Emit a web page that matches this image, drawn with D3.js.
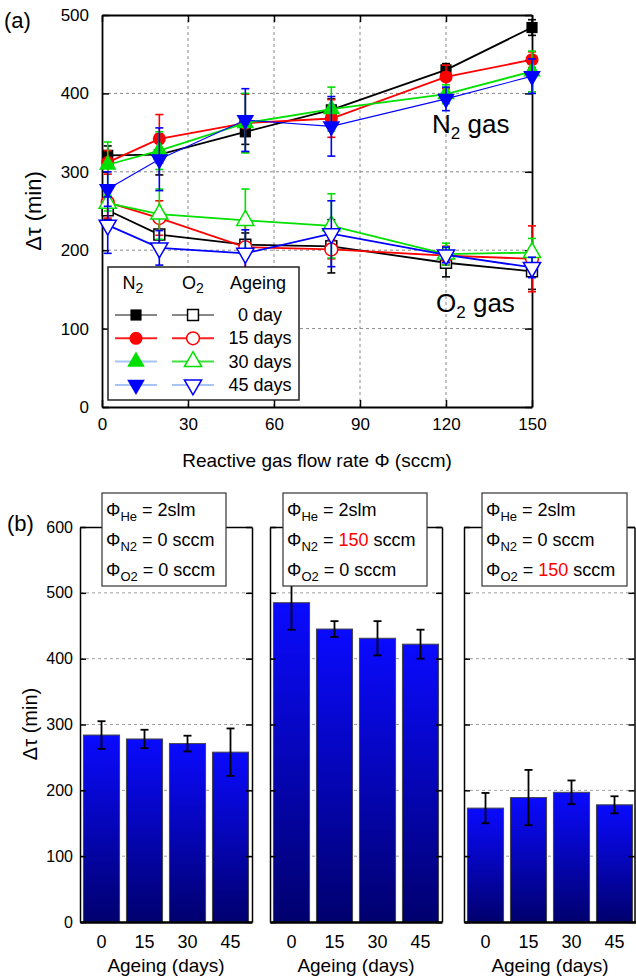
<!DOCTYPE html>
<html><head><meta charset="utf-8">
<script src="https://cdn.jsdelivr.net/npm/d3@7"></script>
<style>
html,body{margin:0;padding:0;background:#fff;}
svg{display:block;font-family:"Liberation Sans",Arial,sans-serif;}
</style></head>
<body><svg id="c" width="636" height="980"></svg>
<script>
// ---------- data: panel (a) ----------
const flowRates = [2, 20, 50, 80, 120, 150];
const xTicksA = [0, 30, 60, 90, 120, 150];
const yTicksA = [0, 100, 200, 300, 400, 500];
const ageingLabels = ["0 day", "15 days", "30 days", "45 days"];
const seriesColors = ["#000000", "#ff0000", "#00e000", "#0000ff"];

const n2Day0  = [321, 322, 351, 379, 430, 484];
const n2Day0Err  = [12, 26, 16, 14, 8, 10];
const n2Day15 = [312, 342, 362, 368, 421, 443];
const n2Day15Err = [15, 31, 37, 24, 15, 10];
const n2Day30 = [309, 327, 362, 380, 399, 428];
const n2Day30Err = [29, 24, 38, 28, 12, 26];
const n2Day45 = [278, 316, 366, 358, 393, 422];
const n2Day45Err = [22, 40, 40, 38, 15, 22];

const o2Day0  = [251, 220, 207, 205, 184, 173];
const o2Day0Err  = [12, 20, 15, 34, 18, 23];
const o2Day15 = [261, 241, 204, 201, 193, 189];
const o2Day15Err = [20, 22, 33, 12, 12, 42];
const o2Day30 = [260, 246, 238, 231, 195, 197];
const o2Day30Err = [10, 32, 40, 41, 14, 18];
const o2Day45 = [232, 203, 196, 221, 194, 178];
const o2Day45Err = [36, 22, 30, 42, 10, 13];

// ---------- data: panel (b) ----------
const ageingDays = ["0", "15", "30", "45"];
const yTicksB = [0, 100, 200, 300, 400, 500, 600];
const noGasValues = [284, 278, 271, 258];
const noGasErr = [21, 14, 12, 36];
const n2GasValues = [485, 445, 431, 422];
const n2GasErr = [41, 12, 26, 22];
const o2GasValues = [173, 189, 197, 178];
const o2GasErr = [23, 42, 18, 13];

const svg = d3.select("#c");
const FONT = '"Liberation Sans",Arial,sans-serif';

// ================= PANEL (a) =================
const xA = d3.scaleLinear().domain([0, 150]).range([102, 532]);
const yA = d3.scaleLinear().domain([0, 500]).range([407, 15]);
const gA = svg.append("g");

gA.selectAll(".gx").data(xTicksA.slice(1, -1)).join("line")
  .attr("x1", d => xA(d)).attr("x2", d => xA(d)).attr("y1", yA(0)).attr("y2", yA(500))
  .attr("stroke", "#888").attr("stroke-width", 1).attr("stroke-dasharray", "3,3");
gA.selectAll(".gy").data(yTicksA.slice(1, -1)).join("line")
  .attr("x1", xA(0)).attr("x2", xA(150)).attr("y1", d => yA(d)).attr("y2", d => yA(d))
  .attr("stroke", "#888").attr("stroke-width", 1).attr("stroke-dasharray", "3,3");

const axB = gA.append("g").attr("transform", `translate(0,${yA(0)})`)
  .call(d3.axisBottom(xA).tickValues(xTicksA).tickSizeInner(-7).tickSizeOuter(0).tickPadding(13));
const axT = gA.append("g").attr("transform", `translate(0,${yA(500)})`)
  .call(d3.axisTop(xA).tickValues(xTicksA).tickSizeInner(-7).tickSizeOuter(0).tickFormat(""));
const axL = gA.append("g").attr("transform", `translate(${xA(0)},0)`)
  .call(d3.axisLeft(yA).tickValues(yTicksA).tickSizeInner(-7).tickSizeOuter(0).tickPadding(13));
const axR = gA.append("g").attr("transform", `translate(${xA(150)},0)`)
  .call(d3.axisRight(yA).tickValues(yTicksA).tickSizeInner(-7).tickSizeOuter(0).tickFormat(""));
[axB, axT, axL, axR].forEach(a => {
  a.select(".domain").attr("stroke", "#000").attr("stroke-width", 1.8);
  a.selectAll(".tick line").attr("stroke", "#000").attr("stroke-width", 1.5);
  a.selectAll("text").attr("font-size", 17).attr("font-family", FONT).attr("fill", "#000");
});
axB.selectAll("text").attr("dy", "0.35em").attr("y", 17);
axL.selectAll("text").attr("x", -13);

const n2Series = [[n2Day0, n2Day0Err], [n2Day15, n2Day15Err], [n2Day30, n2Day30Err], [n2Day45, n2Day45Err]];
const o2Series = [[o2Day0, o2Day0Err], [o2Day15, o2Day15Err], [o2Day30, o2Day30Err], [o2Day45, o2Day45Err]];
const symTypes = [d3.symbolSquare, d3.symbolCircle, d3.symbolTriangle, d3.symbolTriangle];
const symSizes = [125, 135, 135, 135];
const symRot = [0, 0, 0, 180];
const lineW = [1.8, 1.8, 1.8, 1.1];

const lineGen = d3.line().x((d, i) => xA(flowRates[i])).y(d => yA(d));
const plotA = gA.append("g");

function drawSeries(series, filled, lw) {
  series.forEach((s, k) => {
    const vals = s[0], errs = s[1], col = seriesColors[k];
    const g = plotA.append("g");
    g.append("path").datum(vals).attr("d", lineGen).attr("fill", "none")
      .attr("stroke", col).attr("stroke-width", lw[k]);
    const eb = g.selectAll(".eb").data(vals).join("g");
    eb.append("line").attr("x1", (d, i) => xA(flowRates[i])).attr("x2", (d, i) => xA(flowRates[i]))
      .attr("y1", (d, i) => yA(d - errs[i])).attr("y2", (d, i) => yA(d + errs[i]))
      .attr("stroke", col).attr("stroke-width", 1.6);
    eb.append("line").attr("x1", (d, i) => xA(flowRates[i]) - 4).attr("x2", (d, i) => xA(flowRates[i]) + 4)
      .attr("y1", (d, i) => yA(d + errs[i])).attr("y2", (d, i) => yA(d + errs[i]))
      .attr("stroke", col).attr("stroke-width", 1.6);
    eb.append("line").attr("x1", (d, i) => xA(flowRates[i]) - 4).attr("x2", (d, i) => xA(flowRates[i]) + 4)
      .attr("y1", (d, i) => yA(d - errs[i])).attr("y2", (d, i) => yA(d - errs[i]))
      .attr("stroke", col).attr("stroke-width", 1.6);
    g.selectAll(".m").data(vals).join("path")
      .attr("d", d3.symbol().type(symTypes[k]).size(filled ? symSizes[k] : symSizes[k] * 0.95))
      .attr("transform", (d, i) => `translate(${xA(flowRates[i])},${yA(d)}) rotate(${symRot[k]})`)
      .attr("fill", filled ? col : "#fff").attr("stroke", col).attr("stroke-width", filled ? 0 : 1.5);
  });
}
drawSeries(o2Series, false, [1.8, 1.8, 1.8, 1.8]);
drawSeries(n2Series, true, lineW);

svg.append("text").attr("x", 4).attr("y", 28).attr("font-size", 22).text("(a)");
const n2t = svg.append("text").attr("x", 432).attr("y", 133).attr("font-size", 26);
n2t.append("tspan").text("N");
n2t.append("tspan").attr("font-size", 17).attr("dy", 6).text("2");
n2t.append("tspan").attr("dy", -6).text(" gas");
const o2t = svg.append("text").attr("x", 436).attr("y", 312).attr("font-size", 26);
o2t.append("tspan").text("O");
o2t.append("tspan").attr("font-size", 17).attr("dy", 6).text("2");
o2t.append("tspan").attr("dy", -6).text(" gas");
svg.append("text").attr("transform", "translate(41,211) rotate(-90)").attr("text-anchor", "middle")
  .attr("font-size", 22).text("Δτ (min)");
svg.append("text").attr("x", 317).attr("y", 467).attr("text-anchor", "middle")
  .attr("font-size", 19).text("Reactive gas flow rate Φ (sccm)");

// legend
const lg = svg.append("g");
lg.append("rect").attr("x", 108).attr("y", 267).attr("width", 191).attr("height", 133)
  .attr("fill", "#fff").attr("stroke", "#222").attr("stroke-width", 1.5);
const h1 = lg.append("text").attr("x", 133).attr("y", 289).attr("text-anchor", "middle").attr("font-size", 18);
h1.append("tspan").text("N"); h1.append("tspan").attr("font-size", 14).attr("dy", 4).text("2");
const h2 = lg.append("text").attr("x", 193).attr("y", 289).attr("text-anchor", "middle").attr("font-size", 18);
h2.append("tspan").text("O"); h2.append("tspan").attr("font-size", 14).attr("dy", 4).text("2");
lg.append("text").attr("x", 258).attr("y", 289).attr("text-anchor", "middle").attr("font-size", 18).text("Ageing");
const legN2Line = ["#888", "#ff2020", "#a8c4f4", "#a8c4f4"];
const legO2Line = ["#888", "#ff2020", "#40e040", "#a8c4f4"];
ageingLabels.forEach((lab, k) => {
  const yy = 315 + k * 23.3;
  lg.append("line").attr("x1", 115).attr("x2", 157).attr("y1", yy).attr("y2", yy).attr("stroke", legN2Line[k]).attr("stroke-width", 2);
  lg.append("line").attr("x1", 172).attr("x2", 214).attr("y1", yy).attr("y2", yy).attr("stroke", legO2Line[k]).attr("stroke-width", 2);
  lg.append("path").attr("d", d3.symbol().type(symTypes[k]).size(symSizes[k]))
    .attr("transform", `translate(136,${yy}) rotate(${symRot[k]})`).attr("fill", seriesColors[k]);
  lg.append("path").attr("d", d3.symbol().type(symTypes[k]).size(symSizes[k] * 0.95))
    .attr("transform", `translate(193,${yy}) rotate(${symRot[k]})`).attr("fill", "#fff")
    .attr("stroke", seriesColors[k]).attr("stroke-width", 1.5);
  lg.append("text").attr("x", 260).attr("y", yy + 6).attr("text-anchor", "middle").attr("font-size", 18)
    .text(lab);
});

// ================= PANEL (b) =================
const yB = d3.scaleLinear().domain([0, 600]).range([922, 527]);
const defs = svg.append("defs");
const grad = defs.append("linearGradient").attr("id", "barGrad").attr("x1", 0).attr("y1", 0).attr("x2", 0).attr("y2", 1);
grad.append("stop").attr("offset", "0%").attr("stop-color", "#0a0aff");
grad.append("stop").attr("offset", "100%").attr("stop-color", "#00006e");

const panels = [
  { x0: 80, x1: 252, bx: 102, bw: 124, vals: noGasValues, errs: noGasErr, n2: "0", o2: "0" },
  { x0: 270, x1: 442, bx: 283, bw: 144, vals: n2GasValues, errs: n2GasErr, n2: "150", o2: "0" },
  { x0: 464, x1: 634.5, bx: 482, bw: 145, vals: o2GasValues, errs: o2GasErr, n2: "0", o2: "150" }
];
panels.forEach((p, pi) => {
  const g = svg.append("g");
  const xB = d3.scaleBand().domain(ageingDays).range([p.x0, p.x0 + 172]).paddingInner(0.16).paddingOuter(0.08);
  g.selectAll(".gy").data(yTicksB.slice(1, -1)).join("line")
    .attr("x1", p.x0).attr("x2", p.x1).attr("y1", d => yB(d)).attr("y2", d => yB(d))
    .attr("stroke", "#888").attr("stroke-width", 0.8).attr("stroke-dasharray", "3,3");
  g.selectAll(".bar").data(p.vals).join("rect")
    .attr("x", (d, i) => xB(ageingDays[i])).attr("width", xB.bandwidth())
    .attr("y", d => yB(d)).attr("height", d => yB(0) - yB(d))
    .attr("fill", "url(#barGrad)").attr("stroke", "#444").attr("stroke-width", 1);
  const cx = i => xB(ageingDays[i]) + xB.bandwidth() / 2;
  g.selectAll(".ev").data(p.vals).join("line")
    .attr("x1", (d, i) => cx(i)).attr("x2", (d, i) => cx(i))
    .attr("y1", (d, i) => yB(d - p.errs[i])).attr("y2", (d, i) => yB(d + p.errs[i]))
    .attr("stroke", "#000").attr("stroke-width", 1.8);
  g.selectAll(".et").data(p.vals).join("line")
    .attr("x1", (d, i) => cx(i) - 4).attr("x2", (d, i) => cx(i) + 4)
    .attr("y1", (d, i) => yB(d + p.errs[i])).attr("y2", (d, i) => yB(d + p.errs[i]))
    .attr("stroke", "#000").attr("stroke-width", 1.8);
  g.selectAll(".eb").data(p.vals).join("line")
    .attr("x1", (d, i) => cx(i) - 4).attr("x2", (d, i) => cx(i) + 4)
    .attr("y1", (d, i) => yB(d - p.errs[i])).attr("y2", (d, i) => yB(d - p.errs[i]))
    .attr("stroke", "#000").attr("stroke-width", 1.8);
  const aL = g.append("g").attr("transform", `translate(${p.x0},0)`)
    .call(d3.axisLeft(yB).tickValues(yTicksB).tickSizeInner(-6).tickSizeOuter(0).tickPadding(8));
  const aR = g.append("g").attr("transform", `translate(${p.x1},0)`)
    .call(d3.axisRight(yB).tickValues(yTicksB).tickSizeInner(-6).tickSizeOuter(0).tickFormat(""));
  const aT = g.append("g").attr("transform", `translate(0,${yB(600)})`)
    .call(d3.axisTop(d3.scaleLinear().range([p.x0, p.x1])).tickValues([]).tickSizeOuter(0));
  const aB = g.append("g").attr("transform", `translate(0,${yB(0)})`)
    .call(d3.axisBottom(xB).tickSize(0).tickPadding(13).tickSizeOuter(0));
  [aL, aR, aT, aB].forEach(a => {
    a.select(".domain").attr("stroke", "#000").attr("stroke-width", 1.5);
    a.selectAll(".tick line").attr("stroke", "#000").attr("stroke-width", 1.5);
    a.selectAll("text").attr("font-family", FONT).attr("fill", "#000");
  });
  aB.select(".domain").attr("stroke-width", 2.4);
  aB.selectAll("text").attr("font-size", 18);
  if (pi === 0) {
    aL.selectAll("text").attr("font-size", 16).attr("x", -7);
  } else {
    aL.selectAll("text").remove();
  }
  g.append("text").attr("x", (p.x0 + p.x0 + 172) / 2).attr("y", 972).attr("text-anchor", "middle")
    .attr("font-size", 19).text("Ageing (days)");
  g.append("rect").attr("x", p.bx).attr("y", 493).attr("width", p.bw).attr("height", 93)
    .attr("fill", "#fff").attr("stroke", "#333").attr("stroke-width", 1.2);
  const rows = [["He", "= 2slm", null], ["N2", " = ", p.n2], ["O2", " = ", p.o2]];
  rows.forEach((r, ri) => {
    const t = g.append("text").attr("x", p.bx + 4).attr("y", 516 + ri * 30).attr("font-size", 18);
    t.append("tspan").text("Φ");
    t.append("tspan").attr("font-size", 13).attr("dy", 5).text(r[0]);
    t.append("tspan").attr("dy", -5).text(" " + r[1]);
    if (r[2] !== null) {
      t.append("tspan").attr("fill", r[2] === "150" ? "#ff0000" : "#000").text(r[2]);
      t.append("tspan").text(" sccm");
    }
  });
});
svg.append("text").attr("x", 7).attr("y", 531).attr("font-size", 22).text("(b)");
svg.append("text").attr("transform", "translate(37,724) rotate(-90)").attr("text-anchor", "middle")
  .attr("font-size", 20).text("Δτ (min)");
</script></body></html>
